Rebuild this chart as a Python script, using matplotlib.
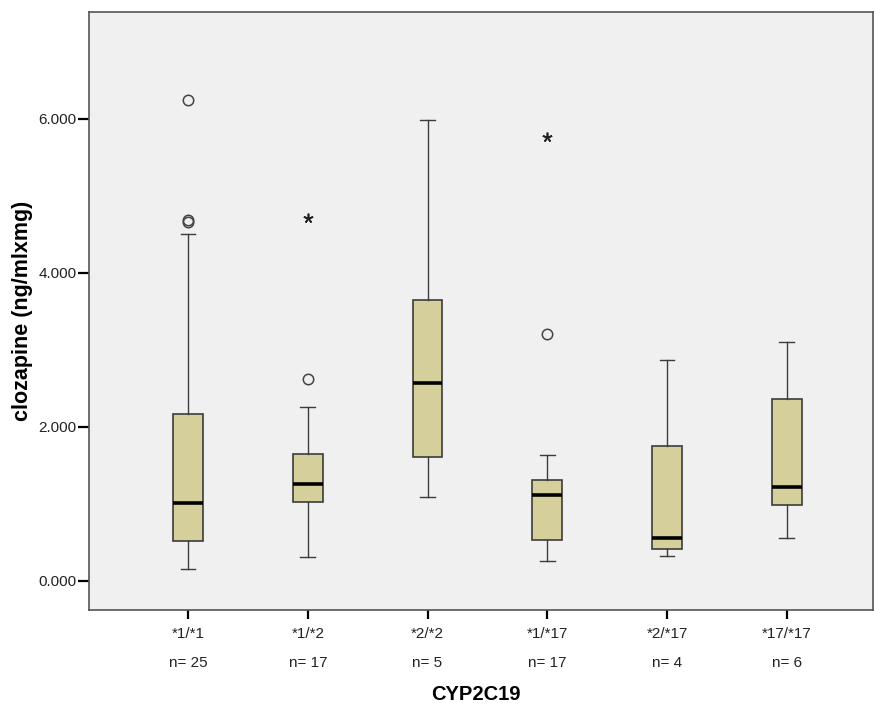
import matplotlib
matplotlib.use('Agg')
from matplotlib import pyplot as plt

# genotype groups and box statistics
groups = ['*1/*1', '*1/*2', '*2/*2', '*1/*17', '*2/*17', '*17/*17']
counts = [25, 17, 5, 17, 4, 6]
whis_lo = [0.15, 0.305, 1.085, 0.25, 0.32, 0.556]
q1 = [0.52, 1.02, 1.61, 0.53, 0.41, 0.98]
median = [1.01, 1.26, 2.57, 1.107, 0.56, 1.22]
q3 = [2.16, 1.645, 3.65, 1.31, 1.75, 2.36]
whis_hi = [4.50, 2.26, 5.98, 1.63, 2.87, 3.10]
outliers = [[6.24, 4.69, 4.66], [2.62], [], [3.20], [], []]
extremes = [[], [4.71], [], [5.77], [], []]

plt.rcParams['font.family'] = ['Liberation Sans', 'DejaVu Sans']

fig = plt.figure(figsize=(8.74, 7.09), dpi=100)
ax = fig.add_axes([89 / 874, 99 / 709, 784 / 874, 598 / 709])
ax.set_facecolor('#f0f0f0')

pos = list(range(1, len(groups) + 1))
stats = []
for i in range(len(groups)):
    stats.append({'med': median[i], 'q1': q1[i], 'q3': q3[i],
                  'whislo': whis_lo[i], 'whishi': whis_hi[i], 'fliers': []})

ax.bxp(stats, positions=pos, widths=0.248, patch_artist=True, showfliers=False,
       boxprops=dict(facecolor='#d4cf9b', edgecolor='#3c3c3c', linewidth=1.2),
       medianprops=dict(color='black', linewidth=2.6, solid_capstyle='butt'),
       whiskerprops=dict(color='#3c3c3c', linewidth=1.0),
       capprops=dict(color='#3c3c3c', linewidth=1.0))

# circles = outliers, asterisks = extreme values (SPSS style)
for p, vals in zip(pos, outliers):
    if vals:
        ax.plot([p] * len(vals), vals, linestyle='none', marker='o', markersize=7.5,
                markerfacecolor='none', markeredgecolor='#444444', markeredgewidth=1.1)
for p, vals in zip(pos, extremes):
    if vals:
        ax.plot([p] * len(vals), vals, linestyle='none', marker=(5, 2), markersize=7,
                color='#222222', markeredgewidth=1.2)

ax.set_xlim(0.173, 6.72)
ax.set_ylim(-0.381, 7.389)
ax.set_yticks([0, 2, 4, 6])
ax.set_yticklabels(['0.000', '2.000', '4.000', '6.000'])
ax.set_xticks(pos)
ax.set_xticklabels(groups)

ax.tick_params(axis='y', length=8, width=1.6, color='black', pad=1,
               labelsize=11, labelcolor='#222222')
ax.tick_params(axis='x', length=6.5, width=1.6, color='black', pad=6,
               labelsize=11, labelcolor='#222222')
for s in ax.spines.values():
    s.set_color('#555555')
    s.set_linewidth(1.2)

for p, n in zip(pos, counts):
    ax.annotate('n= %d' % n, xy=(p, 0), xycoords=('data', 'axes fraction'),
                xytext=(0, -53), textcoords='offset pixels',
                ha='center', va='center', fontsize=11, color='#222222')

ax.set_ylabel('clozapine (ng/mlxmg)', fontsize=15.5, fontweight='bold')
ax.yaxis.set_label_coords(-0.071, 0.5)
fig.text(476 / 874, 1 - 695 / 709, 'CYP2C19', ha='center', va='center',
         fontsize=14.5, fontweight='bold')

fig.savefig('out.png', dpi=100)
